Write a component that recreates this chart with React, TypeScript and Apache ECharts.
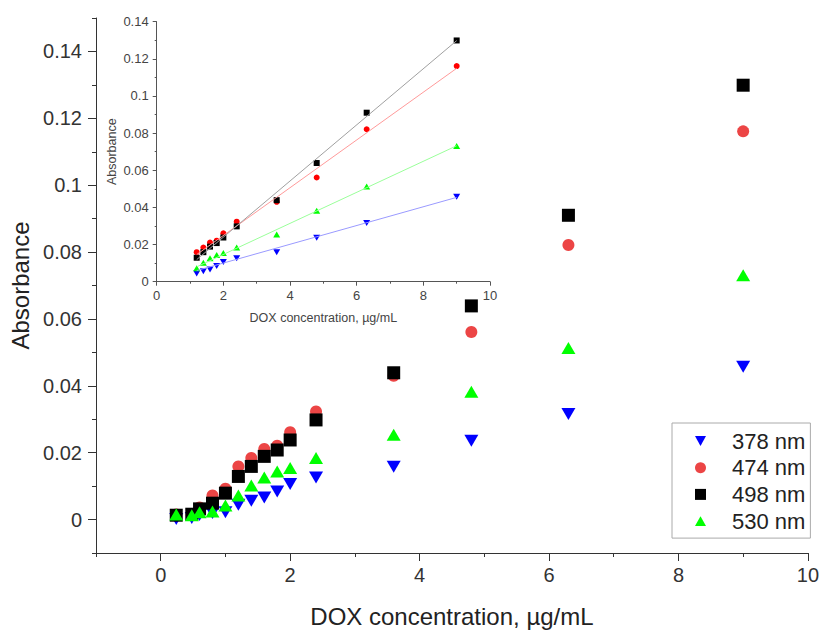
import React, { useEffect, useRef } from 'react';
import * as echarts from 'echarts';

// DOX concentration (µg/mL)
const conc = [0.24, 0.48, 0.6, 0.8, 1.0, 1.2, 1.4, 1.6, 1.8, 2.0, 2.4, 3.6, 4.8, 6.3, 9.0];
// Absorbance at each wavelength
const abs378 = [0.0002, 0.0005, 0.0014, 0.002, 0.0022, 0.0044, 0.0056, 0.0066, 0.0084, 0.0106, 0.0126, 0.0158, 0.0236, 0.0316, 0.0457];
const abs474 = [0.0015, 0.0015, 0.0036, 0.0072, 0.0092, 0.0159, 0.0184, 0.0211, 0.0221, 0.0261, 0.0323, 0.043, 0.0561, 0.0821, 0.1161];
const abs498 = [0.0013, 0.0016, 0.0032, 0.0049, 0.0079, 0.0129, 0.0159, 0.0189, 0.0208, 0.0238, 0.0298, 0.0439, 0.0639, 0.091, 0.1299];
const abs530 = [0.0015, 0.0013, 0.0022, 0.0024, 0.0042, 0.0072, 0.0102, 0.0126, 0.0144, 0.0154, 0.0184, 0.0254, 0.0382, 0.0513, 0.0731];

// inset shows the points from 1.2 µg/mL on
const insetFirstIndex = 5;

// linear fit lines in the inset (end points)
const fit378 = [[1.2, 0.006], [9.0, 0.0454]];
const fit474 = [[1.2, 0.0146], [9.0, 0.1149]];
const fit498 = [[1.2, 0.0119], [9.0, 0.1298]];
const fit530 = [[1.2, 0.008], [9.0, 0.0732]];

const seriesNames = ['378 nm', '474 nm', '498 nm', '530 nm'];

const xMajorTicks = [0, 2, 4, 6, 8, 10];
const xMinorTicks = [-1, 1, 3, 5, 7, 9];
const yMajorTicks = [0, 0.02, 0.04, 0.06, 0.08, 0.1, 0.12, 0.14];
const yMinorTicks = [-0.01, 0.01, 0.03, 0.05, 0.07, 0.09, 0.11, 0.13, 0.15];

const FONT = '"Liberation Sans", Arial, Helvetica, sans-serif';
const DOWN_TRI = 'path://M0,0L10,0L5,9Z';
const UP_TRI = 'path://M5,0L10,9L0,9Z';
const SQUARE = 'path://M0,0L10,0L10,10L0,10Z';

export default function App() {
  const ref = useRef<HTMLDivElement>(null);
  useEffect(() => {
    if (!ref.current) return;
    const chart = echarts.init(ref.current, undefined, { renderer: 'svg' });
    const pts = (ys: number[]) => conc.map((x, i) => [x, ys[i]]);
    const insetPts = (ys: number[]) => conc.slice(insetFirstIndex).map((x, i) => [x, ys[i + insetFirstIndex]]);
    const axisColor = '#333';
    const insetColor = '#555';

    const mainMarkers = [
      { name: seriesNames[0], data: abs378, symbol: DOWN_TRI, size: [14, 12], color: '#0000ff' },
      { name: seriesNames[1], data: abs474, symbol: 'circle', size: 12, color: '#ec4545' },
      { name: seriesNames[2], data: abs498, symbol: SQUARE, size: 13, color: '#000000' },
      { name: seriesNames[3], data: abs530, symbol: UP_TRI, size: [14, 12], color: '#00ff00' },
    ];
    const insetMarkers = [
      { data: abs378, fit: fit378, symbol: DOWN_TRI, size: [7, 6], color: '#0000ff', line: '#9a9aff' },
      { data: abs474, fit: fit474, symbol: 'circle', size: 6, color: '#ff0000', line: '#ff9a9a' },
      { data: abs498, fit: fit498, symbol: SQUARE, size: 6, color: '#000000', line: '#a0a0a0' },
      { data: abs530, fit: fit530, symbol: UP_TRI, size: [7, 6], color: '#00ff00', line: '#9aff9a' },
    ];

    const series: any[] = [];
    insetMarkers.forEach((m, k) => {
      series.push({
        name: 'fit ' + k,
        type: 'line',
        xAxisIndex: 2,
        yAxisIndex: 2,
        data: m.fit,
        symbol: 'none',
        lineStyle: { color: m.line, width: 1 },
        silent: true,
      });
    });
    insetMarkers.forEach((m, k) => {
      series.push({
        name: 'inset ' + k,
        type: 'scatter',
        xAxisIndex: 2,
        yAxisIndex: 2,
        data: insetPts(m.data),
        symbol: m.symbol,
        symbolSize: m.size,
        itemStyle: { color: m.color, opacity: 1 },
      });
    });
    mainMarkers.forEach((m) => {
      series.push({
        name: m.name,
        type: 'scatter',
        xAxisIndex: 0,
        yAxisIndex: 0,
        data: pts(m.data),
        symbol: m.symbol,
        symbolSize: m.size,
        itemStyle: { color: m.color, opacity: 1 },
      });
    });

    chart.setOption({
      animation: false,
      textStyle: { fontFamily: FONT },
      grid: [
        { left: 96, right: 12, top: 18, bottom: 78 },
        { left: 156.7, top: 21.7, width: 333.3, height: 260 },
      ],
      legend: {
        data: seriesNames,
        orient: 'vertical',
        left: 672,
        top: 423,
        padding: [7, 5, 6, 23],
        itemWidth: 11,
        itemHeight: 11,
        itemGap: 4.7,
        symbolKeepAspect: true,
        borderColor: '#aaaaaa',
        borderWidth: 1,
        textStyle: { fontSize: 22, color: '#222', fontFamily: FONT, padding: [0, 0, 0, 21] },
      },
      xAxis: [
        {
          gridIndex: 0,
          type: 'value',
          min: -1,
          max: 10,
          name: 'DOX concentration, µg/mL',
          nameLocation: 'middle',
          nameGap: 51,
          nameTextStyle: { fontSize: 24, color: '#222', fontFamily: FONT },
          axisLine: { show: true, onZero: false, lineStyle: { color: axisColor, width: 1 } },
          axisTick: { show: true, customValues: xMajorTicks, length: 8, lineStyle: { color: axisColor } },
          axisLabel: { customValues: xMajorTicks, fontSize: 20, margin: 12, color: '#333', fontFamily: FONT },
          splitLine: { show: false },
        },
        {
          gridIndex: 0,
          type: 'value',
          min: -1,
          max: 10,
          position: 'bottom',
          axisLine: { show: false, onZero: false },
          axisTick: { show: true, customValues: xMinorTicks, length: 4, lineStyle: { color: axisColor } },
          axisLabel: { show: false },
          splitLine: { show: false },
        },
        {
          gridIndex: 1,
          type: 'value',
          min: 0,
          max: 10,
          interval: 2,
          name: 'DOX concentration, µg/mL',
          nameLocation: 'middle',
          nameGap: 30,
          nameTextStyle: { fontSize: 12.5, color: '#444', fontFamily: FONT },
          axisLine: { show: true, onZero: false, lineStyle: { color: insetColor, width: 1 } },
          axisTick: { show: true, length: 4, lineStyle: { color: insetColor } },
          minorTick: { show: true, splitNumber: 2, length: 2, lineStyle: { color: insetColor } },
          axisLabel: { fontSize: 13, margin: 7, color: '#444', fontFamily: FONT },
          splitLine: { show: false },
        },
      ],
      yAxis: [
        {
          gridIndex: 0,
          type: 'value',
          min: -0.01,
          max: 0.15,
          name: 'Absorbance',
          nameLocation: 'middle',
          nameGap: 60,
          nameTextStyle: { fontSize: 24, color: '#222', fontFamily: FONT },
          axisLine: { show: true, onZero: false, lineStyle: { color: axisColor, width: 1 } },
          axisTick: { show: true, customValues: yMajorTicks, length: 8, lineStyle: { color: axisColor } },
          axisLabel: { customValues: yMajorTicks, fontSize: 20, margin: 14, color: '#333', fontFamily: FONT },
          splitLine: { show: false },
        },
        {
          gridIndex: 0,
          type: 'value',
          min: -0.01,
          max: 0.15,
          position: 'left',
          axisLine: { show: false, onZero: false },
          axisTick: { show: true, customValues: yMinorTicks, length: 4, lineStyle: { color: axisColor } },
          axisLabel: { show: false },
          splitLine: { show: false },
        },
        {
          gridIndex: 1,
          type: 'value',
          min: 0,
          max: 0.14,
          interval: 0.02,
          name: 'Absorbance',
          nameLocation: 'middle',
          nameGap: 38,
          nameTextStyle: { fontSize: 12.5, color: '#444', fontFamily: FONT },
          axisLine: { show: true, onZero: false, lineStyle: { color: insetColor, width: 1 } },
          axisTick: { show: true, length: 4, lineStyle: { color: insetColor } },
          minorTick: { show: true, splitNumber: 2, length: 2, lineStyle: { color: insetColor } },
          axisLabel: { fontSize: 13, margin: 8, color: '#444', fontFamily: FONT },
          splitLine: { show: false },
        },
      ],
      series,
    });
    return () => chart.dispose();
  }, []);
  return <div ref={ref} style={{ width: 822, height: 633, position: 'absolute', left: 0, top: 0 }} />;
}
